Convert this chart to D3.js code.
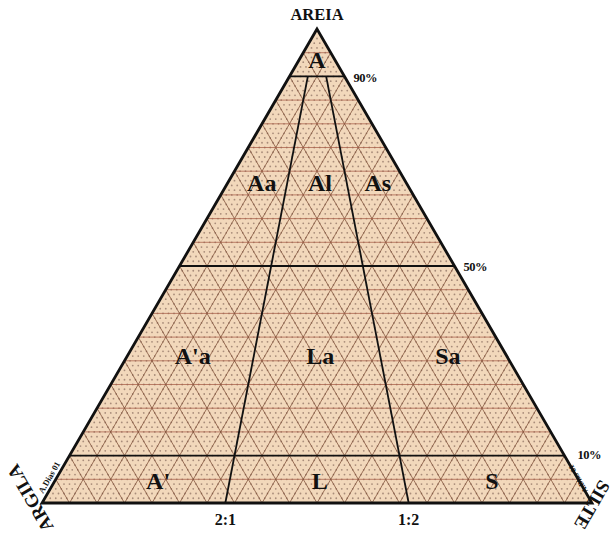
<!DOCTYPE html>
<html><head><meta charset="utf-8">
<script src="https://cdn.jsdelivr.net/npm/d3@7"></script>
<style>
html,body{margin:0;padding:0;background:#fff;}
svg{display:block;}
text{font-family:"Liberation Serif","DejaVu Serif",serif;font-weight:bold;fill:#111;}
</style></head>
<body>
<svg id="c" width="613" height="536"></svg>
<script>
// ---- data ----
const sandClassLevels = [90, 50, 10];            // horizontal class limits (% areia)
const ratioLines = [{name:"2:1", clay:66.667, silt:33.333}, {name:"1:2", clay:33.333, silt:66.667}];
const ratioTopSand = 90;                           // ratio lines stop at 90% sand
const percentLabels = ["90%", "50%", "10%"];
const regionNames = ["A","Aa","Al","As","A'a","La","Sa","A'","L","S"];
const regionSand  = [93.5, 67.5, 67.5, 67.5, 31.2, 31.2, 31.2, 4.8, 4.8, 4.8];
const regionClay  = [3.25, 26.3, 15.7, 5.2, 57.0, 33.8, 10.6, 76.5, 47.1, 15.8];
const regionSilt  = [3.25, 6.2, 16.8, 27.3, 11.8, 35.0, 58.2, 18.7, 48.1, 79.4];
const gridMajor = d3.range(5, 100, 5);

// ---- scales ----
const svg = d3.select("#c");
const xS = d3.scaleLinear().domain([0, 100]).range([42, 592]); // silt + sand/2
const yS = d3.scaleLinear().domain([0, 100]).range([503, 29]); // sand
function P(sand, clay, silt){ return [xS(silt + sand/2), yS(sand)]; }

const defs = svg.append("defs");
const triD = "M"+P(100,0,0)+"L"+P(0,100,0)+"L"+P(0,0,100)+"Z";
defs.append("clipPath").attr("id","tri").append("path").attr("d", triD);

// fill
svg.append("path").attr("d",triD).attr("fill","#f2d8bb");

const g = svg.append("g").attr("clip-path","url(#tri)");

// minor dots at 1% lattice
const dots = [];
for (let s=1; s<100; s++) for (let t=1; t<100-s; t++) dots.push(P(s, 100-s-t, t));
g.selectAll("circle.d").data(dots).enter().append("circle")
  .attr("cx", d=>d[0]).attr("cy", d=>d[1]).attr("r",0.9).attr("fill","#a88c7a");

// major grid lines every 5%
function gridLines(v){
  return [
    [P(v,100-v,0), P(v,0,100-v)],   // const sand (horizontal)
    [P(0,v,100-v), P(100-v,v,0)],   // const clay
    [P(0,100-v,v), P(100-v,0,v)]    // const silt
  ];
}
gridMajor.forEach(v=>{
  gridLines(v).forEach((seg,i)=>{
    g.append("line").attr("x1",seg[0][0]).attr("y1",seg[0][1]).attr("x2",seg[1][0]).attr("y2",seg[1][1])
     .attr("stroke", i===0 ? "#a8604a" : "#7f5038").attr("stroke-width", 0.9).attr("stroke-opacity",0.85);
  });
});

// class lines
sandClassLevels.forEach(v=>{
  const a=P(v,100-v,0), b=P(v,0,100-v);
  svg.append("line").attr("x1",a[0]).attr("y1",a[1]).attr("x2",b[0]).attr("y2",b[1])
    .attr("stroke","#111").attr("stroke-width",1.8);
});
ratioLines.forEach(r=>{
  const a=P(0,r.clay,r.silt);
  const rest=100-ratioTopSand;
  const b=P(ratioTopSand, rest*r.clay/100, rest*r.silt/100);
  svg.append("line").attr("x1",a[0]).attr("y1",a[1]).attr("x2",b[0]).attr("y2",b[1])
    .attr("stroke","#111").attr("stroke-width",1.8);
  svg.append("text").attr("x",a[0]).attr("y",a[1]+22).attr("text-anchor","middle")
    .attr("font-size",16).text(r.name);
});

// outline
svg.append("path").attr("d",triD)
  .attr("fill","none").attr("stroke","#111").attr("stroke-width",2.8).attr("stroke-linejoin","miter");

// region labels
regionNames.forEach((n,i)=>{
  const p=P(regionSand[i], regionClay[i], regionSilt[i]);
  svg.append("text").attr("x",p[0]).attr("y",p[1]).attr("dy","0.35em").attr("text-anchor","middle")
    .attr("font-size",24).text(n);
});

// percent labels on right edge
sandClassLevels.forEach((v,i)=>{
  const p=P(v,0,100-v);
  svg.append("text").attr("x",p[0]+ (i===2?13:9)).attr("y",p[1]+(i===2?-1:1)).attr("dy","0.35em")
    .attr("font-size",12.5).attr("letter-spacing","-0.5").text(percentLabels[i]);
});

// vertex labels
const apex=P(100,0,0);
svg.append("text").attr("x",apex[0]).attr("y",apex[1]-9).attr("text-anchor","middle")
  .attr("font-size",16.5).text("AREIA");
svg.append("text").attr("transform",`translate(17,463) rotate(-120)`)
  .attr("text-anchor","end").attr("font-size",18.5).text("ARGILA");
svg.append("text").attr("transform",`translate(600,479) rotate(120)`)
  .attr("text-anchor","start").attr("font-size",18.5).text("SILTE");

// author marks
const bl=P(0,100,0), br=P(0,0,100);
svg.append("text").attr("transform",`translate(${bl[0]+1},${bl[1]-9}) rotate(-60)`)
  .attr("font-size",8.5).text("A.Dias 01");
svg.append("text").attr("transform",`translate(${br[0]-4},${br[1]-12}) rotate(-120)`)
  .attr("font-size",7.5).text("A.Dias 01");
</script>
</body></html>
